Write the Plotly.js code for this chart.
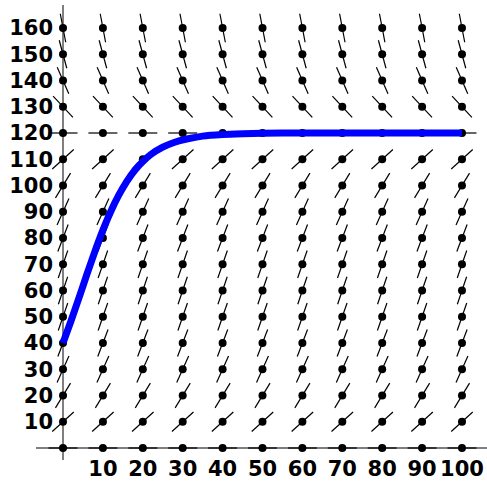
<!DOCTYPE html>
<html>
<head>
<meta charset="utf-8">
<script src="https://cdn.plot.ly/plotly-3.0.1.min.js"></script>
<style>html,body{margin:0;padding:0;background:#fff;}#chart{width:487px;height:481px;}</style>
</head>
<body>
<div id="chart"></div>
<script>
// ---- data ----
const fieldX = [0,10,20,30,40,50,60,70,80,90,100];
const fieldY = [0,10,20,30,40,50,60,70,80,90,100,110,120,130,140,150,160];
const rowSlopes = [0,1.375,2.5,3.375,4,4.375,4.5,4.375,4,3.375,2.5,1.375,0,-1.625,-3.5,-5.625,-8];
const curveT = [0,2,4,6,8,10,12,14,16,18,20,22,25,28,31,35,40,45,50,60,70,80,90,100];
const curveY = [40,48.4,57.2,66.2,74.9,83.0,90.2,96.4,101.6,105.8,109.1,111.8,114.6,116.5,117.7,118.8,119.4,119.7,119.9,120,120,120,120,120];
const xTickVals = [10,20,30,40,50,60,70,80,90,100];
const xTickText = ['10','20','30','40','50','60','70','80','90','100'];
const yTickVals = [10,20,30,40,50,60,70,80,90,100,110,120,130,140,150,160];
const yTickText = ['10','20','30','40','50','60','70','80','90','100','110','120','130','140','150','160'];

// ---- layout geometry ----
const W = 487, H = 481;
const M = {l:36, r:0, t:5, b:21};
const xRange = [-6.77, 106.27];
const yRange = [-4.57, 168.76];
const plotW = W - M.l - M.r, plotH = H - M.t - M.b;
const kx = plotW / (xRange[1]-xRange[0]);
const ky = plotH / (yRange[1]-yRange[0]);
const halfLen = 14.5; // px

// slope field segments (fixed pixel length, centred at grid points)
const segX = [], segY = [], dotX = [], dotY = [];
fieldY.forEach((y, j) => {
  const s = rowSlopes[j];
  const th = Math.atan(s * ky / kx);
  const dx = halfLen * Math.cos(th) / kx;
  const dy = halfLen * Math.sin(th) / ky;
  fieldX.forEach(x => {
    segX.push(x - dx, x + dx, null);
    segY.push(y - dy, y + dy, null);
    dotX.push(x); dotY.push(y);
  });
});

const traces = [
  {type:'scatter', mode:'lines', x:segX, y:segY, line:{color:'black', width:1.2}, hoverinfo:'skip', showlegend:false, connectgaps:false},
  {type:'scatter', mode:'markers', x:dotX, y:dotY, marker:{color:'black', size:8}, hoverinfo:'skip', showlegend:false},
  {type:'scatter', mode:'lines', x:curveT, y:curveY, line:{color:'#0000ff', width:7, shape:'spline', smoothing:0.6}, showlegend:false}
];

const tickFont = {family:'DejaVu Sans, sans-serif', size:21, weight:'bold', color:'black'};
const layout = {
  width:W, height:H,
  margin:M,
  paper_bgcolor:'white', plot_bgcolor:'white',
  showlegend:false,
  xaxis:{range:xRange, showgrid:false, zeroline:true, zerolinecolor:'#7f7f7f', zerolinewidth:1.5,
         showline:false, tickvals:xTickVals, ticktext:xTickText, tickfont:tickFont,
         anchor:'free', position:(0 - yRange[0])/(yRange[1]-yRange[0]), ticks:'', ticklabelstandoff:6},
  yaxis:{range:yRange, showgrid:false, zeroline:true, zerolinecolor:'#7f7f7f', zerolinewidth:1.5,
         showline:false, tickvals:yTickVals, ticktext:yTickText, tickfont:tickFont,
         anchor:'free', position:(0 - xRange[0])/(xRange[1]-xRange[0]), ticks:'', ticklabelstandoff:10}
};
Plotly.newPlot('chart', traces, layout, {staticPlot:true, displayModeBar:false});
</script>
</body>
</html>
